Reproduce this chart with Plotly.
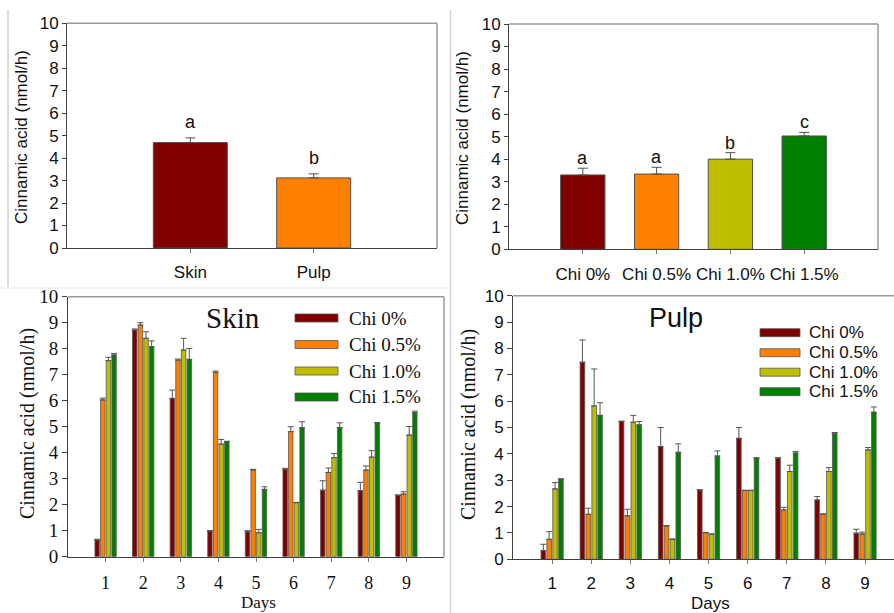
import plotly.graph_objects as go

W, H = 894, 613

# ---------------- data ----------------
tissue_labels = ["Skin", "Pulp"]
tissue_values = [4.69, 3.12]
tissue_err = [0.21, 0.18]
tissue_letters = ["a", "b"]

chi_labels = ["Chi 0%", "Chi 0.5%", "Chi 1.0%", "Chi 1.5%"]
chi_values = [3.30, 3.34, 4.00, 5.03]
chi_err = [0.30, 0.30, 0.29, 0.16]
chi_letters = ["a", "a", "b", "c"]

days = [1, 2, 3, 4, 5, 6, 7, 8, 9]

skin_chi00 = [0.64, 8.72, 6.09, 0.99, 0.96, 3.36, 2.56, 2.54, 2.35]
skin_chi05 = [6.03, 8.91, 7.56, 7.09, 3.33, 4.81, 3.24, 3.33, 2.41]
skin_chi10 = [7.54, 8.40, 7.95, 4.33, 0.92, 2.08, 3.81, 3.83, 4.68]
skin_chi15 = [7.76, 8.08, 7.59, 4.42, 2.59, 4.96, 4.97, 5.15, 5.54]
skin_err00 = [0.03, 0.04, 0.32, 0.02, 0.04, 0.04, 0.36, 0.32, 0.03]
skin_err05 = [0.07, 0.09, 0.04, 0.05, 0.03, 0.19, 0.17, 0.16, 0.09]
skin_err10 = [0.13, 0.25, 0.45, 0.18, 0.13, 0.01, 0.16, 0.25, 0.33]
skin_err15 = [0.06, 0.22, 0.42, 0.02, 0.10, 0.23, 0.18, 0.01, 0.06]

pulp_chi00 = [0.33, 7.48, 5.23, 4.28, 2.63, 4.59, 3.84, 2.25, 0.99]
pulp_chi05 = [0.76, 1.71, 1.65, 1.27, 1.01, 2.61, 1.87, 1.71, 0.96]
pulp_chi10 = [2.67, 5.82, 5.20, 0.76, 0.95, 2.61, 3.33, 3.33, 4.15]
pulp_chi15 = [3.04, 5.46, 5.10, 4.06, 3.92, 3.84, 4.03, 4.76, 5.58]
pulp_err00 = [0.24, 0.84, 0.01, 0.72, 0.01, 0.41, 0.01, 0.13, 0.15]
pulp_err05 = [0.29, 0.23, 0.25, 0.01, 0.01, 0.01, 0.10, 0.01, 0.07]
pulp_err10 = [0.24, 1.40, 0.26, 0.01, 0.01, 0.01, 0.24, 0.15, 0.09]
pulp_err15 = [0.01, 0.48, 0.13, 0.32, 0.19, 0.01, 0.06, 0.05, 0.20]

series_names = ["Chi 0%", "Chi 0.5%", "Chi 1.0%", "Chi 1.5%"]
y_title = "Cinnamic acid (nmol/h)"
x_title = "Days"

# ---------------- styles ----------------
COLORS = ["#800000", "#FF8000", "#BFBF00", "#008000"]
SANS = "Liberation Sans, Arial, sans-serif"
SERIF = "Liberation Serif, Times New Roman, serif"
AX = "#404040"
FRAME = "#9a9a9a"


def px_x(p):
    return p / W


def px_y(p):
    return 1 - p / H


def dom_x(a, b):
    return [px_x(a), min(px_x(b), 1.0)]


def dom_y(top, bottom):
    return [px_y(bottom), px_y(top)]


fig = go.Figure()

# ---- panel 1: tissue ----
fig.add_trace(go.Bar(
    x=list(range(len(tissue_labels))), y=tissue_values, width=0.6,
    marker=dict(color=COLORS[:2], line=dict(color="#505050", width=1)),
    error_y=dict(type="data", symmetric=False, array=tissue_err,
                 arrayminus=[0] * len(tissue_err), color="#505050",
                 thickness=1, width=5),
    xaxis="x", yaxis="y", showlegend=False))

# ---- panel 2: chitosan ----
fig.add_trace(go.Bar(
    x=list(range(len(chi_labels))), y=chi_values, width=0.6,
    marker=dict(color=COLORS, line=dict(color="#505050", width=1)),
    error_y=dict(type="data", symmetric=False, array=chi_err,
                 arrayminus=[0] * len(chi_err), color="#505050",
                 thickness=1, width=5),
    xaxis="x2", yaxis="y2", showlegend=False))

# ---- panel 3 and 4: days ----
skin_series = [skin_chi00, skin_chi05, skin_chi10, skin_chi15]
skin_errs = [skin_err00, skin_err05, skin_err10, skin_err15]
pulp_series = [pulp_chi00, pulp_chi05, pulp_chi10, pulp_chi15]
pulp_errs = [pulp_err00, pulp_err05, pulp_err10, pulp_err15]

for i in range(4):
    fig.add_trace(go.Bar(
        x=days, y=skin_series[i], name=series_names[i],
        marker=dict(color=COLORS[i], line=dict(color="#555555", width=0.8)),
        error_y=dict(type="data", symmetric=False, array=skin_errs[i],
                     arrayminus=[0] * len(days), color="#555555",
                     thickness=1, width=3),
        xaxis="x3", yaxis="y3", showlegend=False))
for i in range(4):
    fig.add_trace(go.Bar(
        x=days, y=pulp_series[i], name=series_names[i],
        marker=dict(color=COLORS[i], line=dict(color="#555555", width=0.8)),
        error_y=dict(type="data", symmetric=False, array=pulp_errs[i],
                     arrayminus=[0] * len(days), color="#555555",
                     thickness=1, width=3),
        xaxis="x4", yaxis="y4", showlegend=False))


def yax(domain, anchor, font, ticklen=4):
    return dict(domain=domain, anchor=anchor, range=[0, 10], tick0=0, dtick=1,
                ticks="outside", ticklen=ticklen, tickcolor=AX, showline=True,
                linecolor=AX, linewidth=1, showgrid=False, zeroline=False,
                tickfont=font, fixedrange=True, automargin=False)


def xax(domain, anchor, rng, tickvals, ticktext, font, standoff):
    return dict(domain=domain, anchor=anchor, range=rng, tickvals=tickvals,
                ticktext=ticktext, ticks="outside", ticklen=4, tickcolor="#777777",
                showline=True, linecolor=AX, linewidth=1, showgrid=False,
                zeroline=False, tickfont=font, ticklabelstandoff=standoff,
                fixedrange=True, automargin=False)


f_top = dict(family=SANS, size=17, color="#111")
f_skin = dict(family=SERIF, size=19, color="#111")
f_skin_x = dict(family=SERIF, size=18, color="#111")
f_pulp = dict(family=SANS, size=17, color="#111")

fig.update_layout(
    width=W, height=H, margin=dict(l=0, r=0, t=0, b=0, autoexpand=False),
    paper_bgcolor="white", plot_bgcolor="white",
    barmode="group", bargap=0.4, bargroupgap=0.22,
    showlegend=False,
    xaxis=xax(dom_x(67, 437), "y", [-1, 2], list(range(len(tissue_labels))),
              tissue_labels, f_top, 5),
    yaxis=yax(dom_y(23.3, 248), "x", f_top),
    xaxis2=xax(dom_x(509, 878), "y2", [-1, 4], list(range(len(chi_labels))),
               chi_labels, f_top, 5),
    yaxis2=yax(dom_y(24, 249.3), "x2", f_top),
    xaxis3=xax(dom_x(68, 444), "y3", [0, 10], days, [str(d) for d in days],
               f_skin_x, 6),
    yaxis3=yax(dom_y(296.7, 556.7), "x3", f_skin, 5),
    xaxis4=xax(dom_x(513, 894), "y4", [0, 9.74], days, [str(d) for d in days],
               f_pulp, 4),
    yaxis4=yax(dom_y(295.7, 559.3), "x4", f_pulp, 5),
)

shapes = []
# frame lines (top and right) of each panel
for xr, yr, right in [("x", "y", True), ("x2", "y2", True), ("x3", "y3", True), ("x4", "y4", False)]:
    shapes.append(dict(type="line", xref=xr + " domain", yref=yr + " domain",
                       x0=0, x1=1, y0=1, y1=1, line=dict(color=FRAME, width=1.5)))
    if right:
        shapes.append(dict(type="line", xref=xr + " domain", yref=yr + " domain",
                           x0=1, x1=1, y0=0, y1=1, line=dict(color=FRAME, width=1.5)))

# panel separators
sep = dict(color="#d2d2d2", width=1.5)
shapes.append(dict(type="line", xref="paper", yref="paper", x0=px_x(8), x1=px_x(8),
                   y0=px_y(10), y1=px_y(287), line=sep))
shapes.append(dict(type="line", xref="paper", yref="paper", x0=px_x(450.5), x1=px_x(450.5),
                   y0=px_y(10), y1=px_y(613), line=sep))
shapes.append(dict(type="line", xref="paper", yref="paper", x0=0, x1=px_x(450),
                   y0=px_y(288), y1=px_y(288), line=dict(color="#e4e4e4", width=1)))

annotations = []


# legends (drawn)
def add_legend(x0, x1, xt, rows, font):
    for i, yc in enumerate(rows):
        shapes.append(dict(type="rect", xref="paper", yref="paper",
                           x0=px_x(x0), x1=px_x(x1), y0=px_y(yc + 4), y1=px_y(yc - 4),
                           fillcolor=COLORS[i], line=dict(color="#555555", width=0.8)))
        annotations.append(dict(text=series_names[i], xref="paper", yref="paper",
                                x=px_x(xt), y=px_y(yc), xanchor="left", yanchor="middle",
                                showarrow=False, font=font))


add_legend(295, 338, 347, [318, 344.5, 371, 397], dict(family=SERIF, size=19, color="#111"))
add_legend(760, 800, 807, [332.7, 352.7, 372.2, 391.7], dict(family=SANS, size=17, color="#111"))

# significance letters
for i, t in enumerate(tissue_letters):
    annotations.append(dict(text=t, xref="x", yref="y", x=i, y=tissue_values[i] + tissue_err[i],
                            yanchor="middle", yshift=16, showarrow=False,
                            font=dict(family=SANS, size=18, color="#111")))
for i, t in enumerate(chi_letters):
    annotations.append(dict(text=t, xref="x2", yref="y2", x=i, y=chi_values[i] + chi_err[i],
                            yanchor="middle", yshift=10, showarrow=False,
                            font=dict(family=SANS, size=18, color="#111")))

# panel titles
annotations.append(dict(text="Skin", xref="paper", yref="paper", x=px_x(233), y=px_y(318),
                        xanchor="center", yanchor="middle", showarrow=False,
                        font=dict(family=SERIF, size=29, color="#111")))
annotations.append(dict(text="Pulp", xref="paper", yref="paper", x=px_x(676), y=px_y(318),
                        xanchor="center", yanchor="middle", showarrow=False,
                        font=dict(family=SANS, size=27, color="#111")))

# axis titles
for (xc, yc, font) in [(21, 137, dict(family=SANS, size=17, color="#111")),
                       (463, 138, dict(family=SANS, size=17, color="#111")),
                       (27, 424, dict(family=SERIF, size=20, color="#111")),
                       (468, 425, dict(family=SERIF, size=20, color="#111"))]:
    annotations.append(dict(text=y_title, xref="paper", yref="paper", x=px_x(xc), y=px_y(yc),
                            xanchor="center", yanchor="middle", textangle=-90,
                            showarrow=False, font=font))
annotations.append(dict(text=x_title, xref="paper", yref="paper", x=px_x(258), y=px_y(602.5),
                        xanchor="center", yanchor="middle", showarrow=False,
                        font=dict(family=SERIF, size=17, color="#111")))
annotations.append(dict(text=x_title, xref="paper", yref="paper", x=px_x(710), y=px_y(603),
                        xanchor="center", yanchor="middle", showarrow=False,
                        font=dict(family=SANS, size=17, color="#111")))

fig.update_layout(shapes=shapes, annotations=annotations)

fig.write_html("out.html",
               config={"displayModeBar": False, "staticPlot": True},
               post_script="document.body.style.margin='0';document.body.style.padding='0';"
                           "document.body.style.overflow='hidden';")
